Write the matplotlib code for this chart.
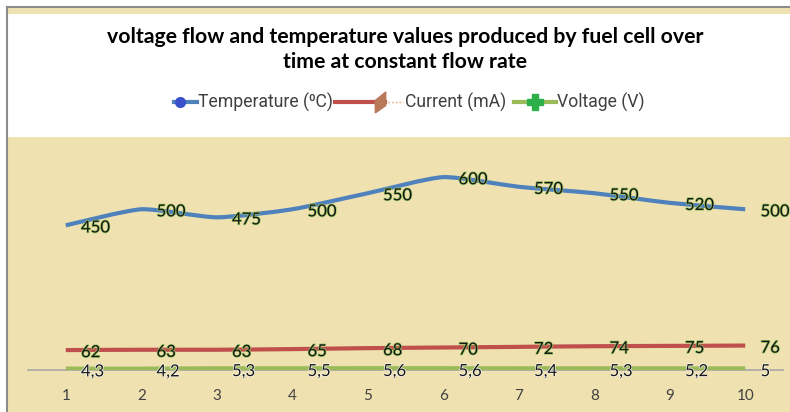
import numpy as np
import matplotlib.pyplot as plt
import matplotlib.patheffects as pe
from matplotlib.path import Path
from matplotlib.patches import PathPatch, Rectangle
from matplotlib.lines import Line2D

# data
hours = [1, 2, 3, 4, 5, 6, 7, 8, 9, 10]
temperature = [450, 500, 475, 500, 550, 600, 570, 550, 520, 500]
current = [62, 63, 63, 65, 68, 70, 72, 74, 75, 76]
voltage = [4.3, 4.2, 5.3, 5.5, 5.6, 5.6, 5.4, 5.3, 5.2, 5.0]
series_names = ['Temperature (\u2070C)', 'Current (mA)', 'Voltage (V)']

beige = '#efe2b0'
c_temp = '#4f81bd'
c_cur = '#c0504d'
c_volt = '#9bbb59'


def smooth_path(x, y, k=10.0):
    # bezier path through the points (excel style smoothed line)
    p = np.column_stack([x, y]).astype(float)
    verts = [p[0]]
    codes = [Path.MOVETO]
    n = len(p)
    for i in range(n - 1):
        p0 = p[i - 1] if i > 0 else p[i]
        p3 = p[i + 2] if i + 2 < n else p[i + 1]
        c1 = p[i] + (p[i + 1] - p0) / k
        c2 = p[i + 1] - (p3 - p[i]) / k
        verts += [c1, c2, p[i + 1]]
        codes += [Path.CURVE4] * 3
    return Path(verts, codes)


fig = plt.figure(figsize=(7.9, 4.12), dpi=100)
W, H = 790, 412

# background panels
fig.patches.append(Rectangle((8 / W, 0), 1, (H - 137) / H, transform=fig.transFigure,
                             facecolor=beige, edgecolor='none', zorder=-5))
fig.patches.append(Rectangle((8 / W, (H - 14) / H), 1, 6 / H, transform=fig.transFigure,
                             facecolor=beige, edgecolor='none', zorder=-5))
fig.add_artist(Line2D([7 / W, 7 / W], [0, (H - 7) / H], color='#8c8c8c', lw=1.5,
                      transform=fig.transFigure, zorder=-4))
fig.add_artist(Line2D([7 / W, 1], [(H - 7) / H, (H - 7) / H], color='#8c8c8c', lw=1.5,
                      transform=fig.transFigure, zorder=-4))

ax = fig.add_axes([28 / W, (H - 370) / H, 755 / W, 225 / H])
ax.set_facecolor('none')
ax.set_xlim(0.5, 10.5)
ax.set_ylim(0, 700)

for ys, col in [(voltage, c_volt), (current, c_cur), (temperature, c_temp)]:
    ax.add_patch(PathPatch(smooth_path(hours, ys), facecolor='none', edgecolor=col,
                           lw=3, capstyle='butt', zorder=3))

halo = [pe.withStroke(linewidth=1.0, foreground='#93c25c')]
for ys in [temperature, current]:
    for x, v in zip(hours, ys):
        ax.annotate(str(v), (x, v), xytext=(11, -1.5), textcoords='offset points',
                    ha='left', va='center', fontsize=12, family='Lato',
                    color='#151515', path_effects=halo, zorder=5)
for x, v in zip(hours, voltage):
    lab = ('%g' % v).replace('.', ',')
    ax.annotate(lab, (x, v), xytext=(11, -2), textcoords='offset points',
                ha='left', va='center', fontsize=12, family='Lato',
                color='#151515', path_effects=[pe.withStroke(linewidth=1.0, foreground='#f8f8f0')],
                zorder=5)

for s in ['top', 'right', 'left']:
    ax.spines[s].set_visible(False)
ax.spines['bottom'].set_color('#a6a6a6')
ax.spines['bottom'].set_linewidth(1.2)
ax.set_yticks([])
ax.set_xticks(hours)
ax.tick_params(axis='x', length=0, pad=14, labelsize=11, labelcolor='#404040')
for t in ax.get_xticklabels():
    t.set_family('Lato')

fig.text(405 / W, (H - 37) / H, 'voltage flow and temperature values produced by fuel cell over',
         ha='center', va='center', fontsize=15.3, fontweight='bold', family='Lato')
fig.text(405 / W, (H - 62) / H, 'time at constant flow rate',
         ha='center', va='center', fontsize=15.3, fontweight='bold', family='Lato')

# legend drawn by hand (excel style uneven handles)
wedge = [(-0.5, -1.0), (0.5, -0.3), (0.5, 1.0), (-0.5, 0.2), (-0.5, -1.0)]
ly = (H - 102) / H
leg = [
    # line start, line end, marker x, text x, colour, marker, size, marker colour
    (174, 197, 180, 198, c_temp, 'o', 7, '#3a50c8'),
    (335, 385, 380, 405, c_cur, wedge, 15, '#b87a5a'),
    (514, 556, 535, 557, c_volt, 'P', 12, '#2db04a'),
]
for (x0, x1, xm, xt, col, mk, ms, mc), name in zip(leg, series_names):
    fig.add_artist(Line2D([x0 / W, x1 / W], [ly, ly], color=col, lw=3,
                          transform=fig.transFigure))
    fig.add_artist(Line2D([xm / W], [ly], marker=mk, ms=ms, mfc=mc, mec=mc, ls='none',
                          transform=fig.transFigure))
    fig.text(xt / W, ly, name, ha='left', va='center', fontsize=12.7, family='Roboto',
             color='#404040')
# little dotted tail after the current marker
fig.add_artist(Line2D([388 / W, 403 / W], [ly, ly], color='#e0a060', lw=1, ls=':',
                      transform=fig.transFigure))

fig.savefig('out.png', dpi=100)
